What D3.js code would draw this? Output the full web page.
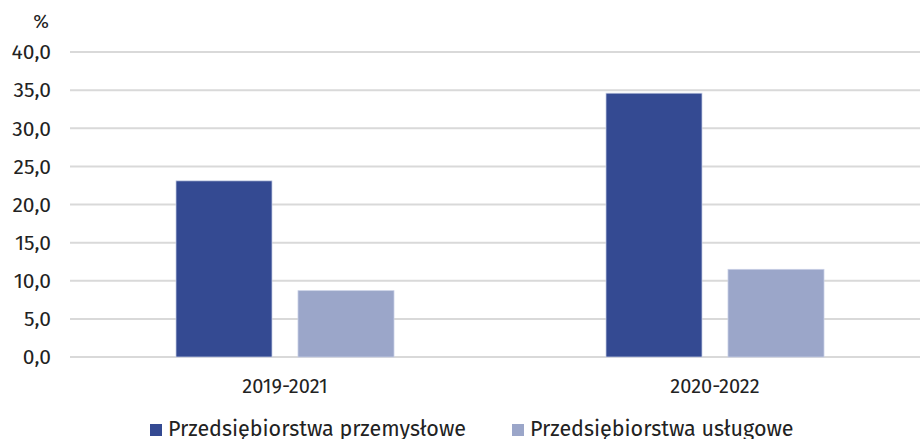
<!DOCTYPE html>
<html>
<head>
<meta charset="utf-8">
<script src="https://cdn.jsdelivr.net/npm/d3@7"></script>
<style>
  body { margin: 0; background: #fff; }
  text { font-family: "Fira Sans", "Open Sans", "Noto Sans", sans-serif; fill: #222; }
</style>
</head>
<body>
<script>
const width = 920;
const height = 439;

const categories = ["2019-2021", "2020-2022"];
const series = ["Przedsiębiorstwa przemysłowe", "Przedsiębiorstwa usługowe"];
const przemyslowe = [23.1, 34.6];
const uslugowe = [8.7, 11.5];
const yTicks = [0, 5, 10, 15, 20, 25, 30, 35, 40];
const colors = ["#344a92", "#9ba6c9"];

const rows = categories.map((c, i) => ({ cat: c, values: [przemyslowe[i], uslugowe[i]] }));

const svg = d3.select("body")
  .append("svg")
  .attr("width", width)
  .attr("height", height);

const y = d3.scaleLinear()
  .domain([0, 40])
  .range([357, 52]);

const x0 = d3.scaleBand()
  .domain(categories)
  .range([70, 930])
  .paddingInner(0.493)
  .paddingOuter(0.2465);

const x1 = d3.scaleBand()
  .domain([0, 1])
  .range([0, x0.bandwidth()])
  .paddingInner(0.213);

// gridlines
svg.selectAll(".grid")
  .data(yTicks)
  .enter()
  .append("line")
  .attr("x1", 70)
  .attr("x2", width)
  .attr("y1", d => y(d))
  .attr("y2", d => y(d))
  .attr("stroke", "#d9d9d9")
  .attr("stroke-width", 2);

// y labels
svg.selectAll(".ylab")
  .data(yTicks)
  .enter()
  .append("text")
  .attr("x", 51)
  .attr("y", d => y(d))
  .attr("dy", "0.35em")
  .attr("text-anchor", "end")
  .style("font-size", "21px")
  .text(d => d.toFixed(1).replace(".", ","));

svg.append("text")
  .attr("x", 41)
  .attr("y", 28)
  .attr("text-anchor", "middle")
  .style("font-size", "19px")
  .text("%");

// bars
const groups = svg.selectAll(".grp")
  .data(rows)
  .enter()
  .append("g")
  .attr("transform", d => `translate(${x0(d.cat)},0)`);

groups.selectAll("rect")
  .data(d => d.values)
  .enter()
  .append("rect")
  .attr("x", (d, i) => x1(i))
  .attr("width", x1.bandwidth())
  .attr("y", d => y(d))
  .attr("height", d => y(0) - y(d))
  .attr("fill", (d, i) => colors[i])
  .attr("stroke", "#c9d0e6")
  .attr("stroke-width", 0.75);

// category labels
svg.selectAll(".xlab")
  .data(categories)
  .enter()
  .append("text")
  .attr("x", d => x0(d) + x0.bandwidth() / 2)
  .attr("y", 393)
  .attr("text-anchor", "middle")
  .style("font-size", "20px")
  .text(d => d);

// legend
const legendX = [150, 512];
const legend = svg.selectAll(".leg")
  .data(series)
  .enter()
  .append("g")
  .attr("transform", (d, i) => `translate(${legendX[i]},0)`);

legend.append("rect")
  .attr("x", 0)
  .attr("y", 424)
  .attr("width", 12)
  .attr("height", 12)
  .attr("fill", (d, i) => colors[i]);

legend.append("text")
  .attr("x", 18)
  .attr("y", 436)
  .style("font-size", "21.5px")
  .text(d => d);
</script>
</body>
</html>
